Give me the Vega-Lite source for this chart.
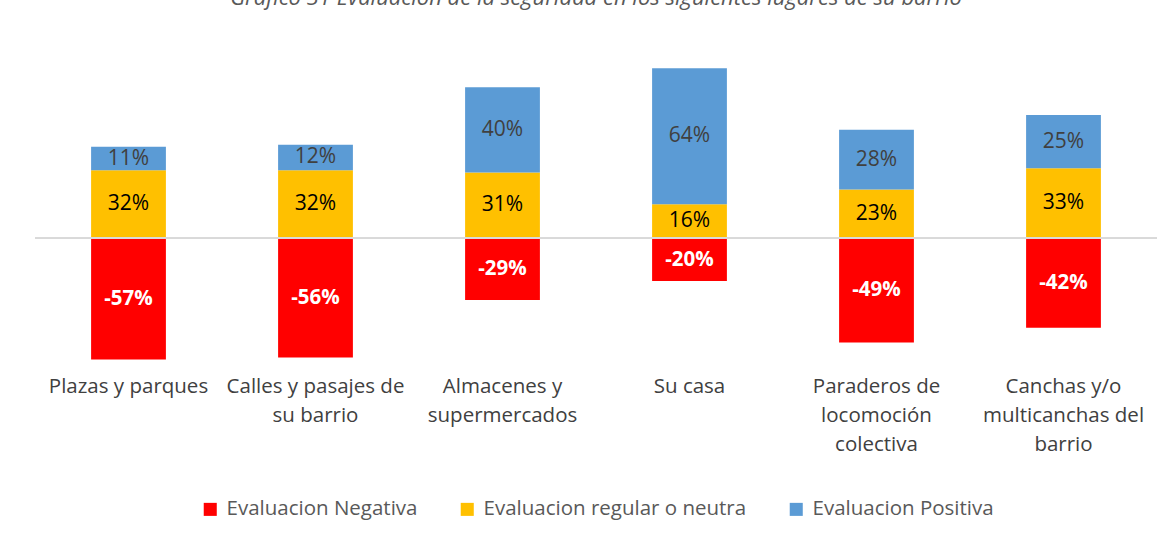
{
  "$schema": "https://vega.github.io/schema/vega-lite/v6.json",
  "autosize": "none",
  "width": 1122,
  "height": 300,
  "padding": {"left": 35, "top": 66, "right": 16, "bottom": 175},
  "background": "white",
  "title": {
    "text": "Gráfico 31 Evaluación de la seguridad en los siguientes lugares de su barrio",
    "font": "Open Sans",
    "fontSize": 22,
    "fontStyle": "italic",
    "fontWeight": "normal",
    "color": "#595959",
    "offset": 56
  },
  "config": {"view": {"stroke": null}, "font": "Open Sans"},
  "data": {
    "values": [
      {"lugar": "Plazas y parques", "serie": "Evaluacion Negativa", "value": -57, "orden": 0},
      {"lugar": "Plazas y parques", "serie": "Evaluacion regular o neutra", "value": 32, "orden": 1},
      {"lugar": "Plazas y parques", "serie": "Evaluacion Positiva", "value": 11, "orden": 2},
      {"lugar": "Calles y pasajes de su barrio", "serie": "Evaluacion Negativa", "value": -56, "orden": 0},
      {"lugar": "Calles y pasajes de su barrio", "serie": "Evaluacion regular o neutra", "value": 32, "orden": 1},
      {"lugar": "Calles y pasajes de su barrio", "serie": "Evaluacion Positiva", "value": 12, "orden": 2},
      {"lugar": "Almacenes y supermercados", "serie": "Evaluacion Negativa", "value": -29, "orden": 0},
      {"lugar": "Almacenes y supermercados", "serie": "Evaluacion regular o neutra", "value": 31, "orden": 1},
      {"lugar": "Almacenes y supermercados", "serie": "Evaluacion Positiva", "value": 40, "orden": 2},
      {"lugar": "Su casa", "serie": "Evaluacion Negativa", "value": -20, "orden": 0},
      {"lugar": "Su casa", "serie": "Evaluacion regular o neutra", "value": 16, "orden": 1},
      {"lugar": "Su casa", "serie": "Evaluacion Positiva", "value": 64, "orden": 2},
      {"lugar": "Paraderos de locomoción colectiva", "serie": "Evaluacion Negativa", "value": -49, "orden": 0},
      {"lugar": "Paraderos de locomoción colectiva", "serie": "Evaluacion regular o neutra", "value": 23, "orden": 1},
      {"lugar": "Paraderos de locomoción colectiva", "serie": "Evaluacion Positiva", "value": 28, "orden": 2},
      {"lugar": "Canchas y/o multicanchas del barrio", "serie": "Evaluacion Negativa", "value": -42, "orden": 0},
      {"lugar": "Canchas y/o multicanchas del barrio", "serie": "Evaluacion regular o neutra", "value": 33, "orden": 1},
      {"lugar": "Canchas y/o multicanchas del barrio", "serie": "Evaluacion Positiva", "value": 25, "orden": 2}
    ]
  },
  "transform": [
    {"stack": "value", "groupby": ["lugar"], "sort": [{"field": "orden"}], "as": ["v0", "v1"]},
    {"calculate": "(datum.v0 + datum.v1) / 2", "as": "mid"},
    {"calculate": "toString(datum.value) + '%'", "as": "etiqueta"}
  ],
  "layer": [
    {
      "mark": {"type": "bar"},
      "encoding": {
        "x": {
          "field": "lugar",
          "type": "nominal",
          "sort": null,
          "scale": {"paddingInner": 0.6, "paddingOuter": 0.3},
          "axis": {
            "title": null,
            "orient": "bottom",
            "domain": false,
            "ticks": false,
            "labelAngle": 0,
            "labelFont": "Open Sans",
            "labelFontSize": 20.5,
            "labelColor": "#404040",
            "labelPadding": 10,
            "labelLineHeight": 29,
            "labelLimit": 0,
            "labelExpr": "datum.label == 'Calles y pasajes de su barrio' ? ['Calles y pasajes de', 'su barrio'] : datum.label == 'Almacenes y supermercados' ? ['Almacenes y', 'supermercados'] : datum.label == 'Paraderos de locomoción colectiva' ? ['Paraderos de', 'locomoción', 'colectiva'] : datum.label == 'Canchas y/o multicanchas del barrio' ? ['Canchas y/o', 'multicanchas del', 'barrio'] : datum.label"
          }
        },
        "y": {"field": "v0", "type": "quantitative", "scale": {"domain": [-60, 81], "nice": false}, "axis": null},
        "y2": {"field": "v1"},
        "color": {
          "field": "serie",
          "type": "nominal",
          "scale": {
            "domain": ["Evaluacion Negativa", "Evaluacion regular o neutra", "Evaluacion Positiva"],
            "range": ["#FF0000", "#FFC000", "#5B9BD5"]
          },
          "legend": {
            "title": null,
            "orient": "none",
            "legendX": 165,
            "legendY": 433,
            "direction": "horizontal",
            "symbolType": "square",
            "symbolSize": 170,
            "symbolStrokeWidth": 0,
            "labelFont": "Open Sans",
            "labelFontSize": 20.5,
            "labelColor": "#595959",
            "labelLimit": 0,
            "columnPadding": 39,
            "labelOffset": 6
          }
        }
      }
    },
    {
      "mark": {"type": "rule", "color": "#D9D9D9", "strokeWidth": 1.5},
      "encoding": {"y": {"datum": 0}}
    },
    {
      "transform": [{"filter": "datum.value < 0"}],
      "mark": {"type": "text", "font": "Open Sans", "fontSize": 20.5, "fontWeight": "bold", "color": "white"},
      "encoding": {
        "x": {"field": "lugar", "type": "nominal", "sort": null},
        "y": {"field": "mid", "type": "quantitative"},
        "text": {"field": "etiqueta"}
      }
    },
    {
      "transform": [{"filter": "datum.value >= 0"}],
      "mark": {"type": "text", "font": "Open Sans", "fontSize": 21},
      "encoding": {
        "x": {"field": "lugar", "type": "nominal", "sort": null},
        "y": {"field": "mid", "type": "quantitative"},
        "text": {"field": "etiqueta"},
        "color": {
          "condition": {"test": "datum.orden == 1", "value": "#000000"},
          "value": "#404040"
        }
      }
    }
  ]
}
